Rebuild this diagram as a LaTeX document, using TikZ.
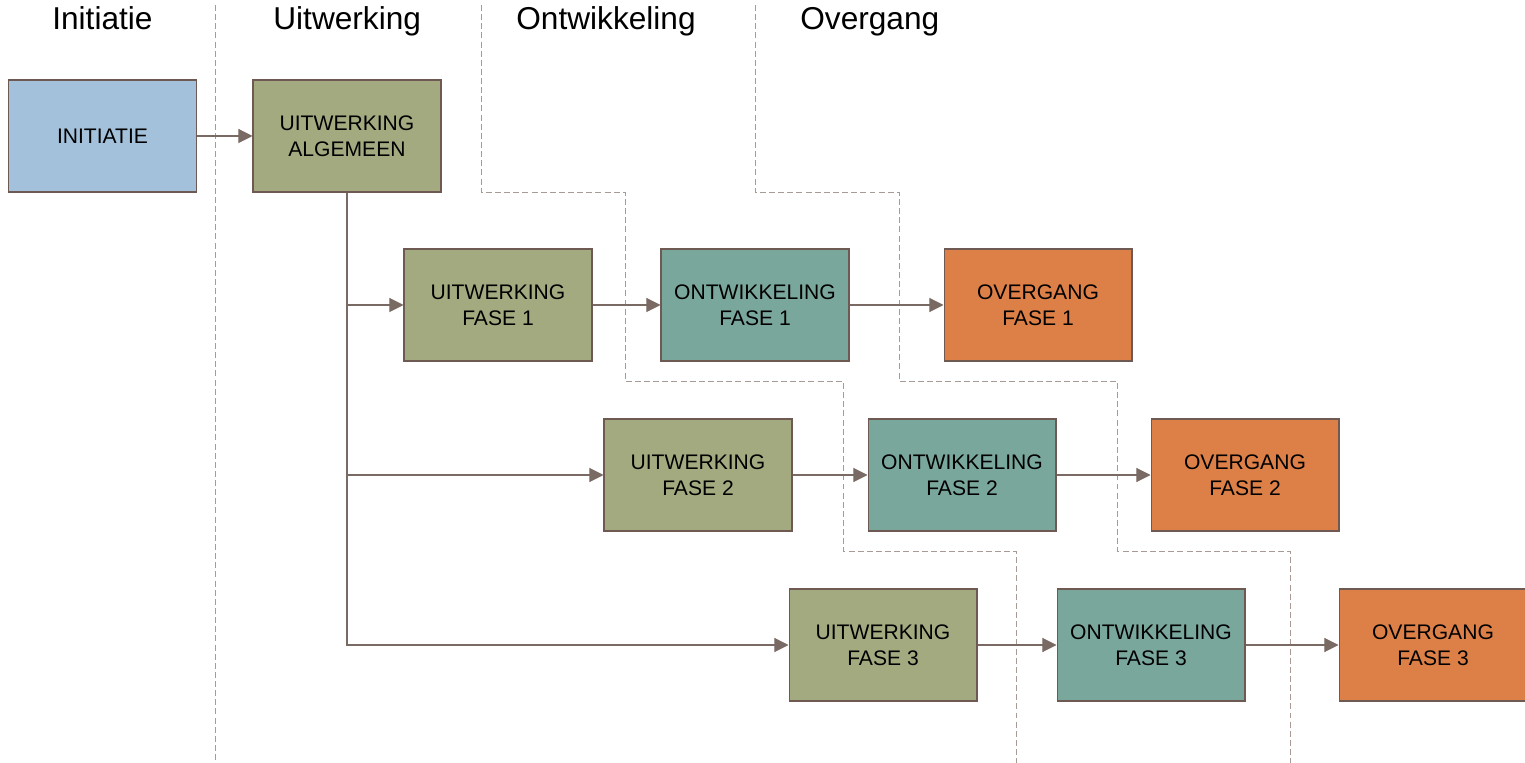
\documentclass[tikz,border=0pt]{standalone}
\usepackage{fontspec}
\setmainfont{Liberation Sans}
\usetikzlibrary{arrows.meta}
\definecolor{ini}{HTML}{A3C1DA}
\definecolor{uit}{HTML}{A4AA80}
\definecolor{ont}{HTML}{7AA79C}
\definecolor{ovg}{HTML}{DD8048}
\definecolor{rand}{HTML}{6E5A52}
\definecolor{pijl}{HTML}{7A6A64}
\definecolor{grens}{HTML}{A89A94}
\tikzset{bx/.style = {rectangle, draw=rand, line width=0.6pt, minimum width=3.76cm, minimum height=2.24cm,
                      inner sep=0pt, align=center, font=\fontsize{12}{14.8}\selectfont},
         ti/.style = {anchor=base west, inner sep=0pt, font=\fontsize{18}{20}\selectfont},
         ln/.style = {draw=pijl, line width=0.6pt},
         gr/.style = {draw=grens, line width=0.5pt, dash pattern=on 3.4pt off 1.8pt}}

\begin{document}
\begin{tikzpicture}[x=0.02cm, y=-0.02cm, >={Triangle[length=8pt,width=8pt]}]
    \useasboundingbox (0,0) rectangle (1525,763);
    % fase grenzen
    \draw[gr] (215,5) -- (215,760);
    \draw[gr] (481,5) -- (481,192) -- (625,192) -- (625,381) -- (843,381) -- (843,551) -- (1016,551) -- (1016,763);
    \draw[gr] (755,5) -- (755,192) -- (899,192) -- (899,381) -- (1117,381) -- (1117,551) -- (1290,551) -- (1290,763);
    % titels
    \node[ti] (t1) at (52,30) {Initiatie};
    \node[ti] (t2) at (273,30) {Uitwerking};
    \node[ti] (t3) at (516,30) {Ontwikkeling};
    \node[ti] (t4) at (800,30) {Overgang};
    % blokken
    \node[bx, fill=ini] (ini) at (102.5,136) {INITIATIE};
    \node[bx, fill=uit] (alg) at (347,136) {UITWERKING\\ALGEMEEN};
    \node[bx, fill=uit] (u1) at (498,305) {UITWERKING\\FASE 1};
    \node[bx, fill=ont] (o1) at (755,305) {ONTWIKKELING\\FASE 1};
    \node[bx, fill=ovg] (v1) at (1038,305) {OVERGANG\\FASE 1};
    \node[bx, fill=uit] (u2) at (698,475) {UITWERKING\\FASE 2};
    \node[bx, fill=ont] (o2) at (962,475) {ONTWIKKELING\\FASE 2};
    \node[bx, fill=ovg] (v2) at (1245,475) {OVERGANG\\FASE 2};
    \node[bx, fill=uit] (u3) at (883,645) {UITWERKING\\FASE 3};
    \node[bx, fill=ont] (o3) at (1151,645) {ONTWIKKELING\\FASE 3};
    \node[bx, fill=ovg] (v3) at (1433,645) {OVERGANG\\FASE 3};
    % pijlen
    \draw[ln, ->, pijl] (ini) -- (alg);
    \draw[ln, ->, pijl] (alg.south) |- (u1.west);
    \draw[ln, ->, pijl] (alg.south) |- (u2.west);
    \draw[ln, ->, pijl] (alg.south) |- (u3.west);
    \draw[ln, ->, pijl] (u1) -- (o1);
    \draw[ln, ->, pijl] (o1) -- (v1);
    \draw[ln, ->, pijl] (u2) -- (o2);
    \draw[ln, ->, pijl] (o2) -- (v2);
    \draw[ln, ->, pijl] (u3) -- (o3);
    \draw[ln, ->, pijl] (o3) -- (v3);
\end{tikzpicture}
\end{document}
